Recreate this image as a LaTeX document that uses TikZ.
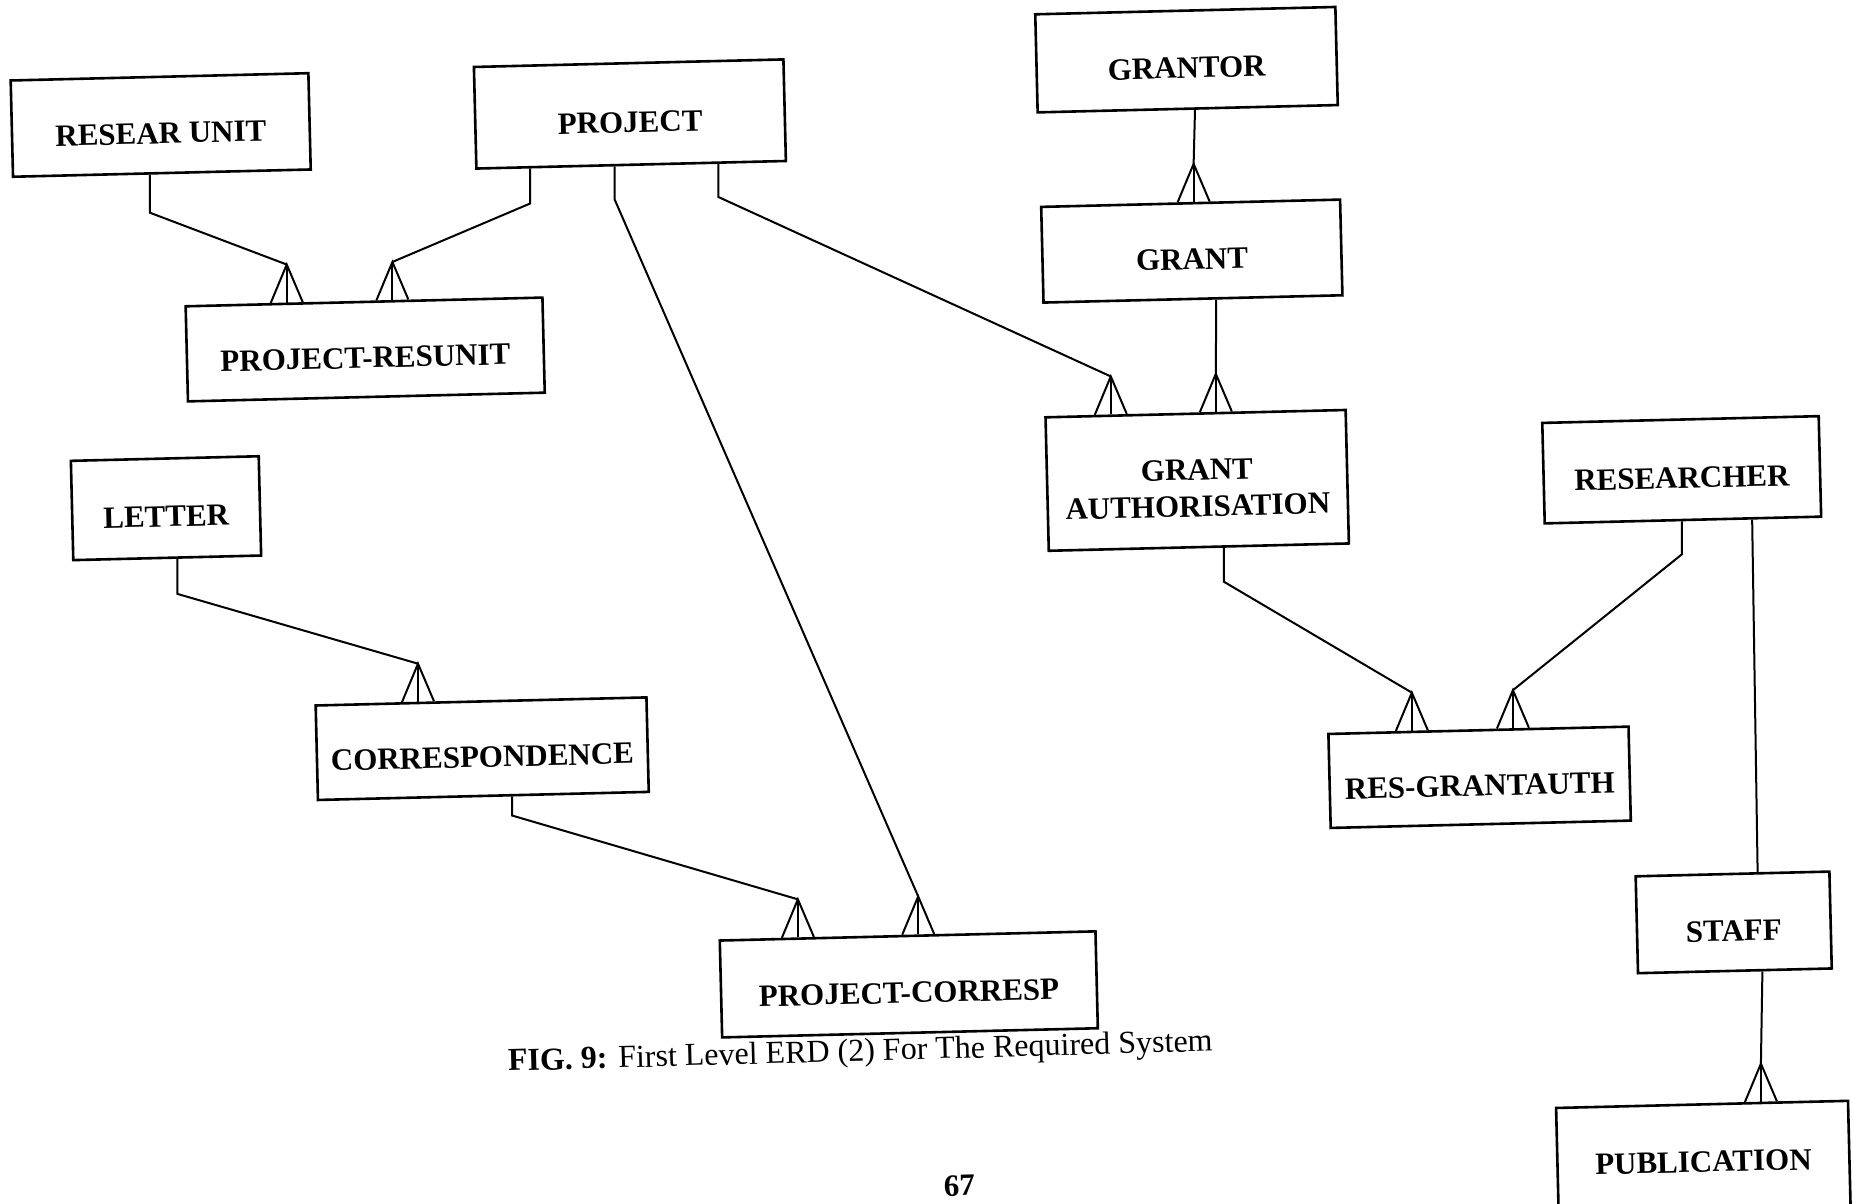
\documentclass[tikz,border=0pt]{standalone}
\usepackage{fontspec}
\setmainfont{Liberation Serif}
\usetikzlibrary{calc}

% one-to-many link: parent, position on its bottom edge, length of the
% vertical drop, child, position of the crow's foot on the child's top edge
\newcommand{\manylink}[5]{%
  \coordinate (s) at ($(#1.south west)!#2!(#1.south east)$);
  \coordinate (f) at ($(#4.north west)!#5!(#4.north east)$);
  \coordinate (ap) at ($(f)+(0,38)$);
  \draw[conn] (s) -- ++(0,-#3) -- (ap);
  \draw[conn] ($(f)!16pt!(#4.north west)$) -- (ap) -- ($(f)!16pt!(#4.north east)$);
  \draw[conn] (ap) -- (f);
}

\begin{document}
\begin{tikzpicture}[x=1pt,y=1pt,
  entity/.style={draw, line width=2.6pt, rotate=1.4, inner sep=0pt,
    font=\fontsize{31}{36.6}\selectfont\bfseries,
    text height=37pt, text depth=0pt, align=center},
  conn/.style={line width=2pt, line join=miter}]
\clip (0,0) rectangle (1853,1204);
\fill[white] (0,0) rectangle (1853,1204);

% entities
\node[entity, minimum width=297.8pt, minimum height=96.3pt]  (ru)  at (160.7,1079.0) {RESEAR UNIT};
\node[entity, minimum width=309.6pt, minimum height=101.6pt] (pj)  at (629.9,1090.0) {PROJECT};
\node[entity, minimum width=356.9pt, minimum height=95.1pt]  (pru) at (365.2,854.5)  {PROJECT-RESUNIT};
\node[entity, minimum width=300.2pt, minimum height=98.1pt]  (gtr) at (1186.5,1144.3) {GRANTOR};
\node[entity, minimum width=299pt,   minimum height=95.7pt]  (gt)  at (1191.8,952.9) {GRANT};
\node[entity, minimum width=300.2pt, minimum height=133.5pt, text height=72.6pt, text depth=0pt]
                                                             (ga)  at (1197.2,723.6) {GRANT\\AUTHORISATION};
\node[entity, minimum width=276.5pt, minimum height=100.5pt] (rs)  at (1681.7,734.2) {RESEARCHER};
\node[entity, minimum width=187.9pt, minimum height=99.3pt]  (lt)  at (166.0,695.8)  {LETTER};
\node[entity, minimum width=330.9pt, minimum height=94.5pt]  (cr)  at (482.2,455.3)  {CORRESPONDENCE};
\node[entity, minimum width=300.2pt, minimum height=94pt]    (rga) at (1479.6,426.7) {RES-GRANTAUTH};
\node[entity, minimum width=193.8pt, minimum height=96.9pt]  (st)  at (1733.7,281.6) {STAFF};
\node[entity, minimum width=375.8pt, minimum height=96.9pt]  (pc)  at (908.8,219.6)  {PROJECT-CORRESP};
\node[entity, minimum width=292pt,   minimum height=120pt, text height=15.6pt]
                                                             (pub) at (1703.5,39.6)  {PUBLICATION};

% relationships
\manylink{ru}{0.46}{38}{pru}{0.285}
\manylink{pj}{0.176}{35}{pru}{0.579}
\manylink{pj}{0.447}{33}{pc}{0.528}
\manylink{pj}{0.779}{33}{ga}{0.22}
\manylink{gtr}{0.524}{0}{gt}{0.51}
\manylink{gt}{0.577}{0}{ga}{0.567}
\manylink{ga}{0.583}{34}{rga}{0.28}
\manylink{rs}{0.496}{33}{rga}{0.614}
\draw[conn] ($(rs.south west)!0.748!(rs.south east)$) -- ($(st.north west)!0.628!(st.north east)$);
\manylink{st}{0.64}{0}{pub}{0.70}
\manylink{lt}{0.553}{35}{cr}{0.311}
\manylink{cr}{0.586}{19}{pc}{0.21}

% caption and page number
\node[rotate=1.6, inner sep=0pt, font=\fontsize{32}{36}\selectfont,
      text height=21pt, text depth=0pt] (cap) at (860.3,153.4)
  {\textbf{FIG. 9:} First Level ERD (2) For The Required System};
\node[rotate=1.4, inner sep=0pt, anchor=base, font=\fontsize{31}{36}\selectfont\bfseries]
  (pg) at (959.6,8) {67};
\end{tikzpicture}
\end{document}
